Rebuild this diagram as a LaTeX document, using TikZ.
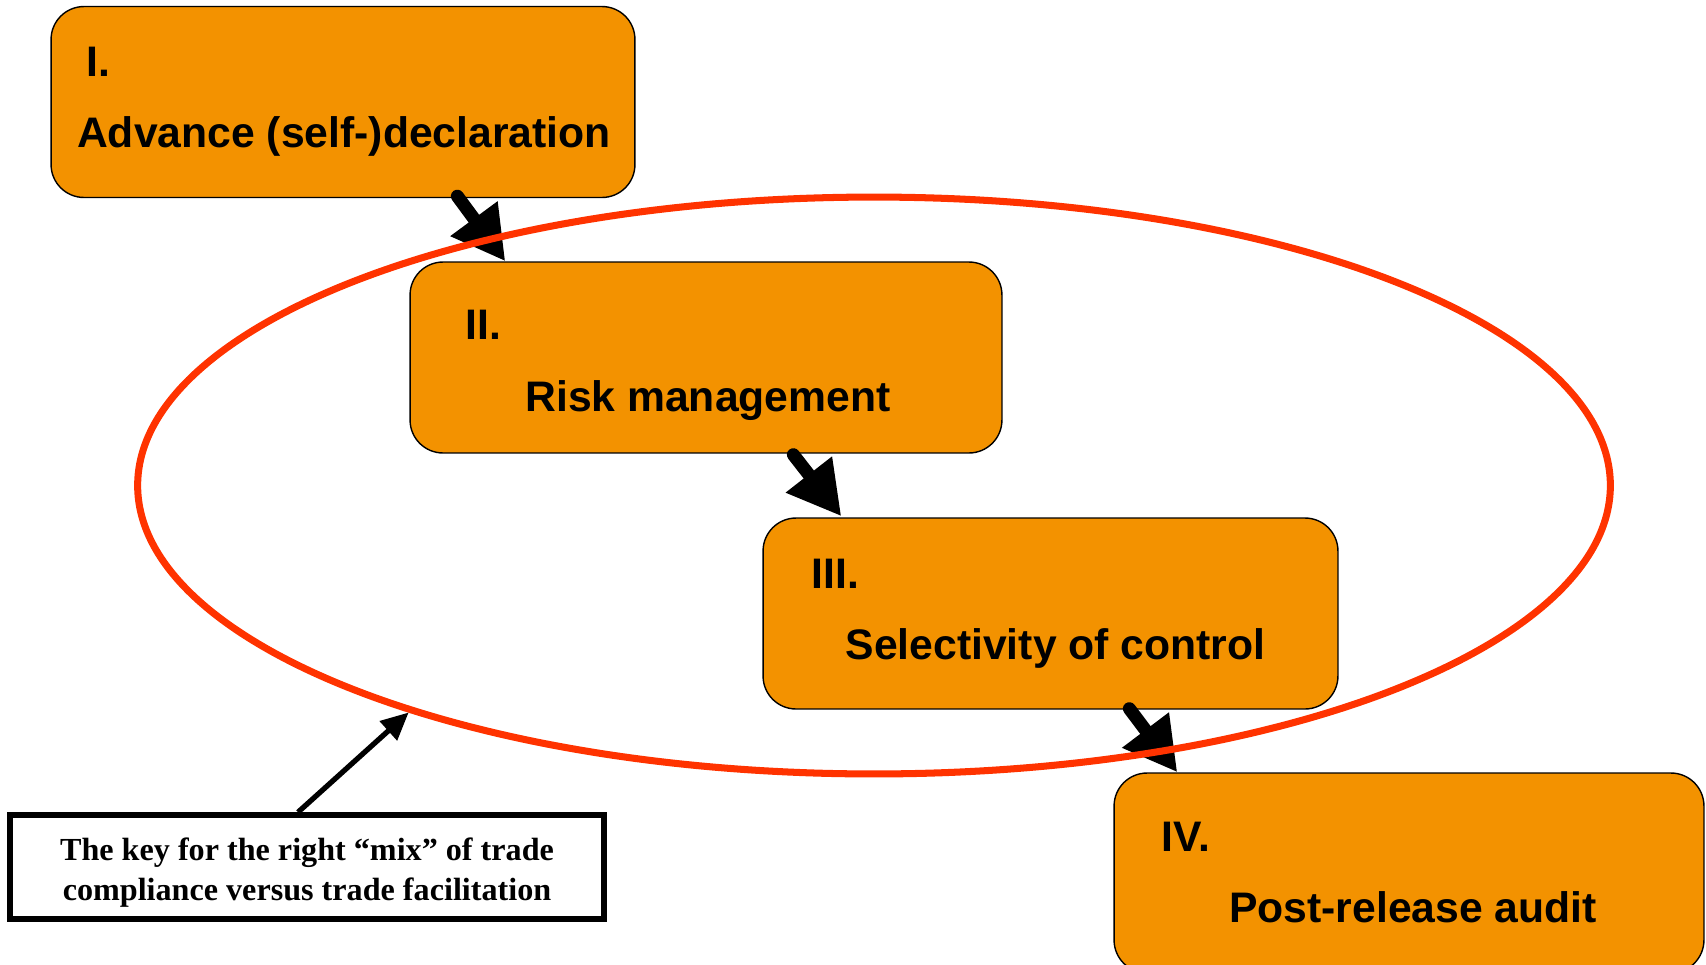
\documentclass[tikz,border=0pt]{standalone}
\usepackage{fontspec}
\setmainfont{Liberation Serif}
\setsansfont{Liberation Sans}
\usepackage{xcolor}
\usetikzlibrary{positioning,calc,arrows.meta,shapes.geometric}

\definecolor{stageorange}{RGB}{243,146,0}
\definecolor{ringred}{RGB}{255,51,0}

\begin{document}
\begin{tikzpicture}[x=0.02cm, y=-0.02cm,
  stage/.style={draw, line width=0.8pt, fill=stageorange, rounded corners=0.66cm,
    minimum height=3.82cm, inner sep=0pt},
  numlabel/.style={font=\sffamily\bfseries\fontsize{24.3}{28}\selectfont, inner sep=0pt, anchor=base west},
  titlelabel/.style={font=\sffamily\bfseries\fontsize{24.3}{28}\selectfont, inner sep=0pt, anchor=base},
  flow/.style={-{Triangle[length=1.06cm,width=1.1cm]}, line width=0.26cm, line cap=round},
  ring/.style={ellipse, draw=ringred, line width=4pt, minimum width=29.46cm, minimum height=11.54cm},
  note/.style={draw, line width=3.2pt, minimum width=11.88cm, minimum height=2.08cm, align=center,
    font=\rmfamily\bfseries\fontsize{18.3}{22.5}\selectfont},
  callout/.style={-{Triangle[length=0.55cm,width=0.5cm]}, line width=3pt}]
  \useasboundingbox (0,0) rectangle (1706,964);

  % the four stages
  \node[stage, minimum width=11.68cm] (b1) at (343,102) {};
  \node[stage, minimum width=11.84cm] (b2) at (706,357.5) {};
  \node[stage, minimum width=11.5cm] (b3) at (1050.5,613.5) {};
  \node[stage, minimum width=11.8cm, minimum height=4cm] (b4) at (1409,873) {};

  \node[numlabel] (n1) at ($(b1.north west)+(36,71)$) {I.};
  \node[titlelabel] (t1) at ($(b1.north)+(1,142)$) {Advance (self-)declaration};
  \node[numlabel] (n2) at ($(b2.north west)+(56,78)$) {II.};
  \node[titlelabel] (t2) at ($(b2.north)+(2,150)$) {Risk management};
  \node[numlabel] (n3) at ($(b3.north west)+(49,71)$) {III.};
  \node[titlelabel] (t3) at ($(b3.north)+(5,142)$) {Selectivity of control};
  \node[numlabel] (n4) at ($(b4.north west)+(48,79)$) {IV.};
  \node[titlelabel] (t4) at ($(b4.north)+(4,150)$) {Post-release audit};

  % steps
  \draw[flow] ($(b1.south west)+(407,-2)$) -- ($(b2.north west)+(96,0)$);
  \draw[flow] ($(b2.south west)+(384,1)$) -- ($(b3.north west)+(79,-1)$);
  \draw[flow] ($(b3.south west)+(367,-1)$) -- ($(b4.north west)+(64,0)$);

  % the mix
  \node[ring] (ring) at (874,485.5) {};

  \node[note] (note) at (307,867) {\rule{0pt}{19pt}The key for the right “mix” of trade\\compliance versus trade facilitation};
  \draw[callout] ([xshift=-0.18cm]note.north) -- (ring.206);
\end{tikzpicture}
\end{document}
